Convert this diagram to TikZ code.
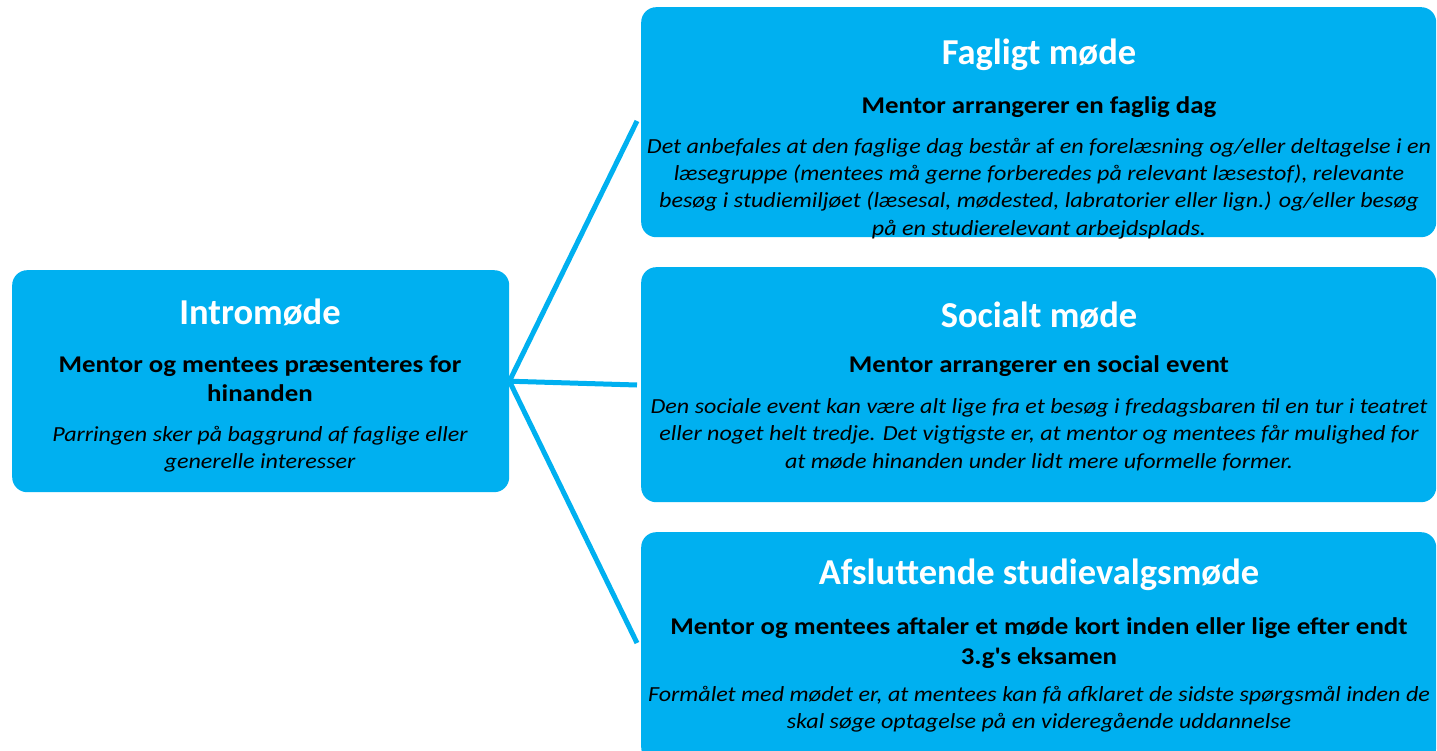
\documentclass[tikz,border=0pt]{standalone}
\usepackage{fontspec}
\setmainfont{Carlito}[FakeStretch=1.12]
\newfontfamily\headfont{Carlito}
\usepackage{tikz}
\usetikzlibrary{positioning, calc}
\definecolor{mentorblue}{RGB}{0,176,240}

\begin{document}
\begin{tikzpicture}[x=1pt,y=-1pt]
	\def \boxleft{641}
	\def \boxmid{1039}
	%\def \boxright{1436}
	\tikzstyle{stage}=[fill=mentorblue,draw=none,rounded corners=15pt,anchor=north west,inner sep=0pt]
	\tikzstyle{s-title}=[text=white,font=\headfont\bfseries\fontsize{36.5}{42}\selectfont,inner sep=0pt]
	\tikzstyle{s-sub}=[align=center,font=\bfseries\fontsize{24}{29.5}\selectfont,inner sep=0pt]
	\tikzstyle{s-body}=[align=center,font=\itshape\fontsize{21.5}{27.3}\selectfont,inner sep=0pt]
	\tikzstyle{link}=[draw=mentorblue,line width=5pt]
	\useasboundingbox (0,0) rectangle (1437,751);

	% boxes
	\node[stage,minimum width=497,minimum height=222] (intro)  at (12,270)       {};
	\node[stage,minimum width=795,minimum height=230] (faglig) at (\boxleft,7)   {};
	\node[stage,minimum width=795,minimum height=235] (social) at (\boxleft,267) {};
	\node[stage,minimum width=795,minimum height=230] (afslut) at (\boxleft,532) {};

	% intro text
	\node[s-title] (intro-title) at (260,312) {Intromøde};
	\node[s-sub]   (intro-sub)   at (260,378.5) {Mentor og mentees præsenteres for\\hinanden};
	\node[s-body]  (intro-body)  at (260,449) {Parringen sker på baggrund af faglige eller\\generelle interesser};

	% faglig text
	\node[s-title] (faglig-title) at (\boxmid,55)  {Fagligt møde};
	\node[s-sub]   (faglig-sub)   at (\boxmid,107) {Mentor arrangerer en faglig dag};
	\node[s-body]  (faglig-body)  at (\boxmid,188.5) {Det anbefales at den faglige dag består {\upshape af} en forelæsning og/eller deltagelse i en\\
		læsegruppe (mentees må gerne forberedes på relevant læsestof), relevante\\
		besøg i studiemiljøet (læsesal, mødested, labratorier eller lign.) og/eller besøg\\
		på en studierelevant arbejdsplads.};

	% social text
	\node[s-title] (social-title) at (\boxmid,315) {Socialt møde};
	\node[s-sub]   (social-sub)   at (\boxmid,366) {Mentor arrangerer en social event};
	\node[s-body]  (social-body)  at (\boxmid,434.5) {Den sociale event kan være alt lige fra et besøg i fredagsbaren til en tur i teatret\\
		eller noget helt tredje. Det vigtigste er, at mentor og mentees får mulighed for\\
		at møde hinanden under lidt mere uformelle former.};

	% afsluttende text
	\node[s-title] (afslut-title) at (\boxmid,575) {Afsluttende studievalgsmøde};
	\node[s-sub]   (afslut-sub)   at (\boxmid,643) {Mentor og mentees aftaler et møde kort inden eller lige efter endt\\3.g\textquotesingle s eksamen};
	\node[s-body]  (afslut-body)  at (\boxmid,709.5) {Formålet med mødet er, at mentees kan få afklaret de sidste spørgsmål inden de\\
		skal søge optagelse på en videregående uddannelse};

	% connector ends
	\coordinate (faglig-tip) at (637,121);
	\coordinate (social-tip) at (637,385);
	\coordinate (afslut-tip) at (637,643);

	\path
		(intro.east)	edge[link]	(faglig-tip)
		(intro.east)	edge[link]	(social-tip)
		(intro.east)	edge[link]	(afslut-tip);
\end{tikzpicture}
\end{document}
